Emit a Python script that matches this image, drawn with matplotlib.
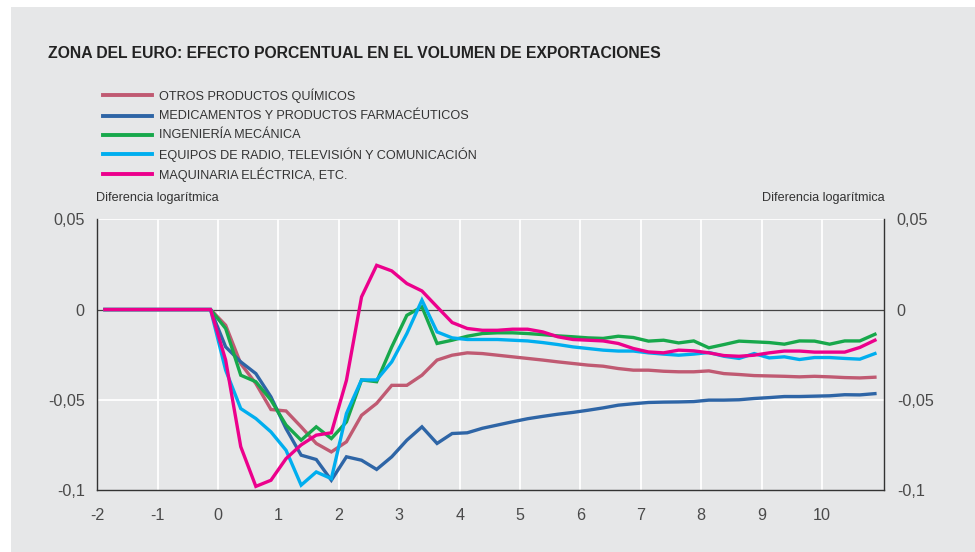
import numpy as np
import matplotlib
matplotlib.use("Agg")
import matplotlib.pyplot as plt
from matplotlib.patches import Rectangle

plt.rcParams['font.family'] = ['Liberation Sans', 'DejaVu Sans']

# Quarterly observations (years relative to event)
x = [-1.875 + 0.25 * i for i in range(52)]
zeros = [0.0] * 8

otros_quimicos = zeros + [
    -0.0087, -0.030, -0.041, -0.0554, -0.0562, -0.065, -0.0742, -0.0789, -0.0733, -0.0586,
    -0.052, -0.042, -0.042, -0.0364, -0.028, -0.0253, -0.024, -0.0244, -0.0253, -0.0262,
    -0.0271, -0.028, -0.029, -0.0299, -0.0308, -0.0314, -0.0327, -0.0336, -0.0336, -0.0342,
    -0.0345, -0.0345, -0.034, -0.0355, -0.036, -0.0366, -0.0368, -0.037, -0.0373, -0.037,
    -0.0373, -0.0377, -0.0379, -0.0375]

medicamentos = zeros + [
    -0.0207, -0.029, -0.0355, -0.0484, -0.066, -0.0807, -0.0831, -0.0946, -0.0816, -0.0835,
    -0.0886, -0.0816, -0.0724, -0.065, -0.0742, -0.0687, -0.0683, -0.0658, -0.0640, -0.0622,
    -0.0605, -0.0592, -0.0580, -0.0570, -0.0558, -0.0545, -0.0530, -0.0522, -0.0515, -0.0513,
    -0.0512, -0.0510, -0.0502, -0.0502, -0.0500, -0.0493, -0.0488, -0.0482, -0.0482, -0.0480,
    -0.0478, -0.0472, -0.0473, -0.0466]

ingenieria = zeros + [
    -0.0105, -0.0364, -0.040, -0.0502, -0.064, -0.0724, -0.065, -0.0715, -0.0623, -0.039,
    -0.040, -0.0207, -0.0032, 0.0015, -0.0188, -0.017, -0.0148, -0.0133, -0.0129, -0.0129,
    -0.0133, -0.0139, -0.0146, -0.0151, -0.0157, -0.016, -0.0148, -0.0155, -0.0175, -0.017,
    -0.0185, -0.0174, -0.0212, -0.0194, -0.0175, -0.0179, -0.0183, -0.0192, -0.0174, -0.0175,
    -0.0192, -0.0174, -0.0174, -0.0137]

equipos_radio = zeros + [
    -0.0336, -0.0549, -0.0604, -0.0678, -0.078, -0.0973, -0.090, -0.0937, -0.0576, -0.039,
    -0.039, -0.029, -0.0133, 0.0052, -0.0124, -0.0157, -0.0166, -0.0166, -0.0166, -0.017,
    -0.0174, -0.0183, -0.0194, -0.0207, -0.0216, -0.0225, -0.023, -0.023, -0.024, -0.0247,
    -0.0253, -0.0247, -0.0238, -0.0259, -0.0271, -0.0244, -0.0268, -0.0262, -0.0277, -0.0266,
    -0.0266, -0.0271, -0.0275, -0.0244]

maquinaria = zeros + [
    -0.028, -0.076, -0.098, -0.0946, -0.0826, -0.075, -0.0696, -0.0683, -0.0392, 0.007,
    0.0245, 0.0214, 0.0144, 0.0103, 0.0015, -0.0072, -0.0105, -0.0115, -0.0115, -0.0109,
    -0.0109, -0.0124, -0.0151, -0.0166, -0.017, -0.0174, -0.0188, -0.0216, -0.0235, -0.024,
    -0.0225, -0.0229, -0.024, -0.0255, -0.0259, -0.0253, -0.024, -0.023, -0.023, -0.0236,
    -0.0236, -0.0236, -0.021, -0.017]

labels = ["OTROS PRODUCTOS QUÍMICOS",
          "MEDICAMENTOS Y PRODUCTOS FARMACÉUTICOS",
          "INGENIERÍA MECÁNICA",
          "EQUIPOS DE RADIO, TELEVISIÓN Y COMUNICACIÓN",
          "MAQUINARIA ELÉCTRICA, ETC."]
series = [otros_quimicos, medicamentos, ingenieria, equipos_radio, maquinaria]
colors = ["#c05a72", "#2e65a6", "#17a84b", "#00aeef", "#ec008c"]

xticks = list(range(-2, 11))
xticklabels = [str(v) for v in xticks]
yticks = [0.05, 0.0, -0.05, -0.1]
yticklabels = ["0,05", "0", "-0,05", "-0,1"]

BG = "#e6e7e8"
TXT = "#333333"
W, H = 975, 552

fig = plt.figure(figsize=(9.75, 5.52), dpi=100, facecolor="white")
bg_ax = fig.add_axes([11 / W, 0, 1 - 11 / W, 1 - 7 / H], zorder=0)
bg_ax.set_facecolor(BG)
bg_ax.set_axis_off()
bg_ax.add_patch(Rectangle((0, 0), 1, 1, transform=bg_ax.transAxes,
                          facecolor=BG, edgecolor="none"))

ax = fig.add_axes([97.3 / W, 1 - 490 / H, (884.3 - 97.3) / W, (490 - 219.3) / H], zorder=2)
ax.set_facecolor(BG)
ax.set_xlim(-2, 11.03)
ax.set_ylim(-0.1, 0.05)

for v in range(-1, 11):
    ax.axvline(v, color="white", lw=1.3, zorder=1)
for v in [0.05, -0.05]:
    ax.axhline(v, color="white", lw=1.3, zorder=1)
ax.axhline(0, color="#444444", lw=0.9, zorder=2)

for s, c in zip(series, colors):
    ax.plot(x, s, color=c, lw=2.4, zorder=3, solid_joinstyle="miter")

ax.spines["top"].set_visible(False)
for side in ["left", "right", "bottom"]:
    ax.spines[side].set_color("#333333")
    ax.spines[side].set_linewidth(1.0)

ax.set_xticks(xticks)
ax.set_xticklabels(xticklabels)
ax.set_yticks(yticks)
ax.set_yticklabels(yticklabels)
ax.tick_params(axis="x", length=0, pad=13, labelsize=11.6, labelcolor="#4a4a4a")
ax.tick_params(axis="y", length=0, pad=9, labelsize=11.6, labelcolor="#4a4a4a",
               left=True, right=True, labelleft=True, labelright=True)

# Title
fig.text(48 / W, 1 - 54 / H, "ZONA DEL EURO: EFECTO PORCENTUAL EN EL VOLUMEN DE EXPORTACIONES",
         fontsize=11.35, fontweight="bold", color="#222222", ha="left", va="center", zorder=5)

# Legend (manual)
leg_y = [95.3, 116, 135, 154.3, 174.3]
for lab, c, yy in zip(labels, colors, leg_y):
    ln = plt.Line2D([103 / W, 152 / W], [1 - yy / H, 1 - yy / H],
                    transform=fig.transFigure, color=c, lw=2.8, zorder=5)
    fig.add_artist(ln)
    fig.text(159 / W, 1 - yy / H, lab, fontsize=9.1, color=TXT, ha="left", va="center", zorder=5)

fig.text(96 / W, 1 - 198 / H, "Diferencia logarítmica", fontsize=9.1, color=TXT,
         ha="left", va="center", zorder=5)
fig.text(885 / W, 1 - 198 / H, "Diferencia logarítmica", fontsize=9.1, color=TXT,
         ha="right", va="center", zorder=5)

fig.savefig("out.png", dpi=100, facecolor="white")
